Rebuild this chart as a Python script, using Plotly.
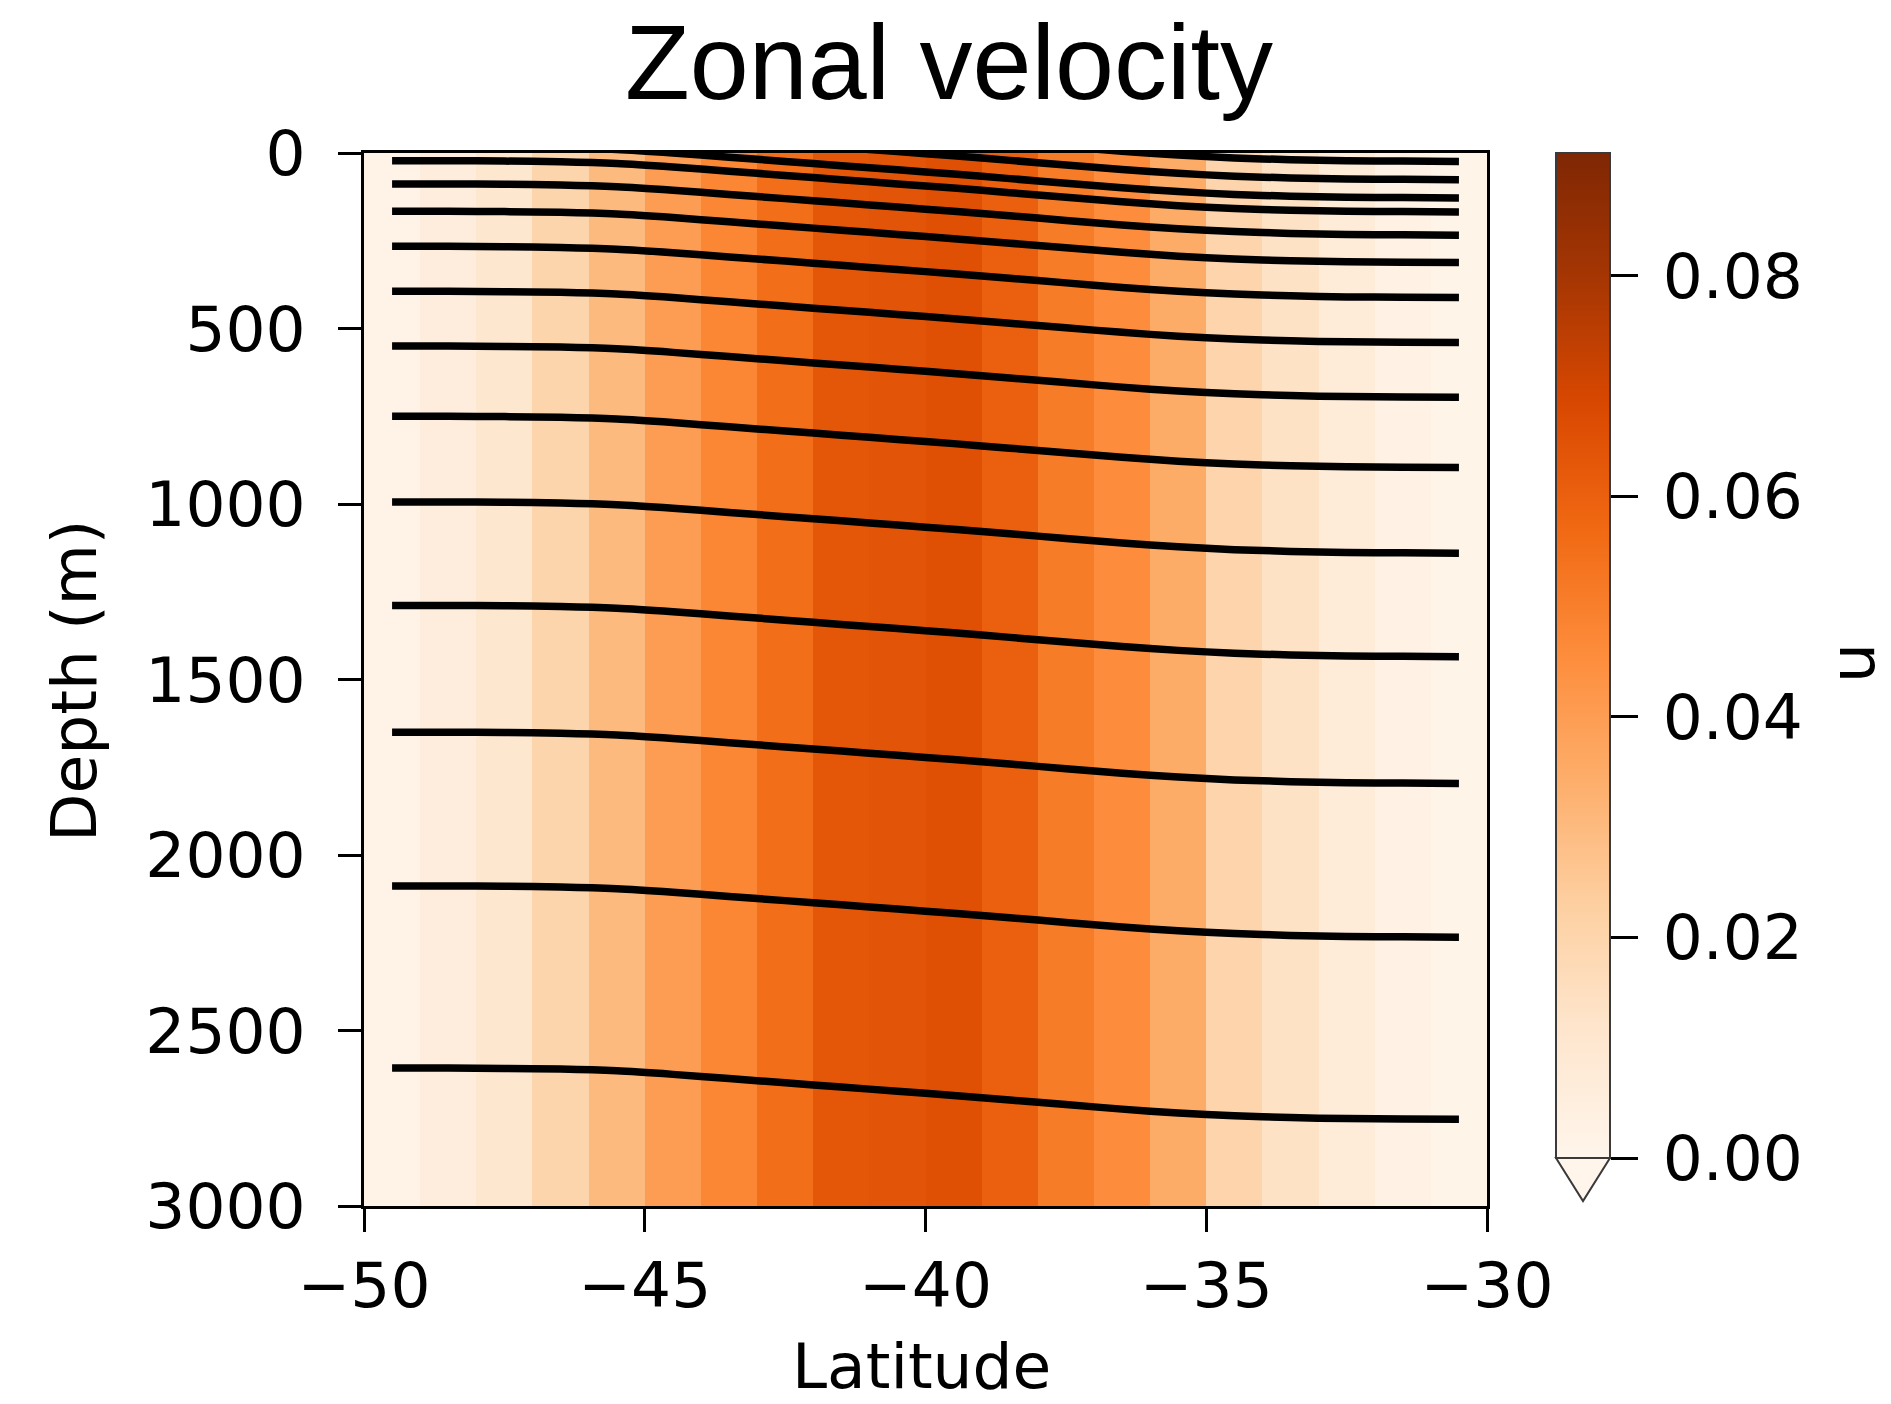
import plotly.graph_objects as go

# ---- data -------------------------------------------------------------
# latitude cell centres (deg)
lat = [-49.5, -48.5, -47.5, -46.5, -45.5, -44.5, -43.5, -42.5, -41.5, -40.5,
       -39.5, -38.5, -37.5, -36.5, -35.5, -34.5, -33.5, -32.5, -31.5, -30.5]

# zonal velocity per latitude column (uniform with depth)
u = [0.0015, 0.006, 0.011, 0.020, 0.030, 0.040, 0.0475, 0.0555, 0.063, 0.064,
     0.0655, 0.060, 0.051, 0.0455, 0.035, 0.0205, 0.0135, 0.0075, 0.003, 0.001]

# depth extent of the velocity section (m)
depth_edges = [0, 3000]

# isopycnal depth at the southern edge (m); negative = outcropped
iso_base_depth = [-122, -70, -18, 22, 88, 166, 266, 394, 550, 750,
                  994, 1289, 1650, 2088, 2607]
# downward displacement of the isopycnals across the front (m)
iso_uplift = [0, 0, 1, 3, 8, 18, 30, 42, 54, 66,
              78, 91, 104, 117, 128, 136, 141, 144, 145, 146]

x_tickvals = [-50, -45, -40, -35, -30]
x_ticktext = ["\u221250", "\u221245", "\u221240", "\u221235", "\u221230"]
y_tickvals = [0, 500, 1000, 1500, 2000, 2500, 3000]
cb_tickvals = [0.0, 0.02, 0.04, 0.06, 0.08]
cb_ticktext = ["0.00", "0.02", "0.04", "0.06", "0.08"]
u_min, u_max = 0.0, 0.0911

oranges = [
    [0.000, "#fff5eb"], [0.125, "#fee6ce"], [0.250, "#fdd0a2"],
    [0.375, "#fdae6b"], [0.500, "#fd8d3c"], [0.625, "#f16913"],
    [0.750, "#d94801"], [0.875, "#a63603"], [1.000, "#7f2704"],
]

# ---- page geometry (px) ----------------------------------------------
W, H = 1891, 1404
PL, PR, PT, PB = 364, 1487, 153, 1206          # plot area box
CB_L, CB_W, CB_TOP, CB_BOT, CB_TIP = 1556, 54, 153, 1158, 1201


def px_x(px):
    return (px - PL) / (PR - PL)


def px_y(py):
    return (PB - py) / (PB - PT)


TICK_FONT = dict(family="DejaVu Sans", size=63, color="black")
INK = "black"
THIN = "\u2009"

fig = go.Figure()

fig.add_trace(go.Heatmap(
    x=lat, y=depth_edges, z=[u],
    colorscale=oranges, zmin=u_min, zmax=u_max,
    hoverinfo="skip",
    colorbar=dict(
        x=px_x(CB_L), xanchor="left", xpad=0,
        y=1, yanchor="top", ypad=0,
        len=CB_BOT - CB_TOP, lenmode="pixels",
        thickness=CB_W, thicknessmode="pixels",
        outlinewidth=2, outlinecolor="#3a3a3a",
        tickmode="array", tickvals=cb_tickvals,
        ticktext=[THIN + t for t in cb_ticktext],
        ticks="outside", ticklen=27, tickwidth=2.5, tickcolor=INK,
        tickfont=TICK_FONT,
    ),
))

# isopycnal contours
for base in iso_base_depth:
    fig.add_trace(go.Scatter(
        x=lat, y=[base + d for d in iso_uplift],
        mode="lines", line=dict(color="black", width=7.5, shape="spline", smoothing=0.8),
        hoverinfo="skip", showlegend=False,
    ))

fig.update_layout(
    width=W, height=H,
    margin=dict(l=PL, r=W - PR, t=PT, b=H - PB, autoexpand=False),
    paper_bgcolor="white", plot_bgcolor="white",
    showlegend=False,
    xaxis=dict(
        range=[-50, -30], tickmode="array", tickvals=x_tickvals, ticktext=x_ticktext,
        ticks="outside", ticklen=23, tickwidth=2.5, tickcolor=INK,
        showline=True, linecolor=INK, linewidth=2.5, mirror=True,
        showgrid=False, zeroline=False, tickfont=TICK_FONT,
        ticklabelstandoff=0,
    ),
    yaxis=dict(
        range=[3000, 0], tickmode="array", tickvals=y_tickvals,
        ticks="outside", ticklen=23, tickwidth=2.5, tickcolor=INK,
        showline=True, linecolor=INK, linewidth=2.5, mirror=True,
        showgrid=False, zeroline=False, tickfont=TICK_FONT,
        ticklabelstandoff=20,
    ),
    shapes=[dict(
        type="path", xref="paper", yref="paper",
        path=(f"M {px_x(CB_L)},{px_y(CB_BOT)} L {px_x(CB_L + CB_W)},{px_y(CB_BOT)} "
              f"L {px_x(CB_L + CB_W / 2)},{px_y(CB_TIP)} Z"),
        fillcolor=oranges[0][1], line=dict(color="#3a3a3a", width=2),
    )],
    annotations=[
        dict(text="Zonal velocity", xref="paper", yref="paper",
             x=px_x(949), y=px_y(62), xanchor="center", yanchor="middle",
             showarrow=False, font=dict(family="Liberation Sans", size=106, color="black")),
        dict(text="Latitude", xref="paper", yref="paper",
             x=px_x(921), y=px_y(1366), xanchor="center", yanchor="middle",
             showarrow=False, font=TICK_FONT),
        dict(text="Depth (m)", xref="paper", yref="paper", textangle=-90,
             x=px_x(75), y=px_y(681), xanchor="center", yanchor="middle",
             showarrow=False, font=TICK_FONT),
        dict(text="u", xref="paper", yref="paper", textangle=-90,
             x=px_x(1852), y=px_y(663), xanchor="center", yanchor="middle",
             showarrow=False, font=TICK_FONT),
    ],
)

fig.write_html("out.html")
